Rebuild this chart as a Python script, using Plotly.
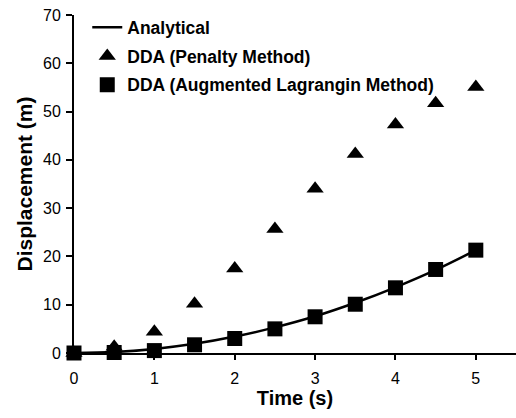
import plotly.graph_objects as go

t = [0, 0.5, 1, 1.5, 2, 2.5, 3, 3.5, 4, 4.5, 5]
analytical = [0, 0.2, 0.85, 1.9, 3.4, 5.3, 7.6, 10.4, 13.6, 17.2, 21.3]
penalty = [0, 1.3, 4.4, 10.2, 17.5, 25.7, 34.0, 41.2, 47.3, 51.7, 55.1]
augmented = [0, 0.1, 0.5, 1.7, 3.0, 5.0, 7.5, 10.1, 13.5, 17.3, 21.3]

fig = go.Figure()
fig.add_trace(go.Scatter(x=t, y=analytical, mode="lines", name="Analytical",
                         line=dict(color="black", width=2.5, shape="spline"),
                         legendgroup="a", cliponaxis=False))
fig.add_trace(go.Scatter(x=t, y=penalty, mode="markers", name="DDA (Penalty Method)",
                         marker=dict(symbol="triangle-up", size=15, color="black"),
                         legendgroup="b", cliponaxis=False))
fig.add_trace(go.Scatter(x=t, y=augmented, mode="markers", name="DDA (Augmented Lagrangin Method)",
                         marker=dict(symbol="square", size=15, color="black"),
                         legendgroup="c", cliponaxis=False))

fig.update_layout(
    width=516, height=418,
    margin=dict(l=74, r=0, t=15, b=65),
    plot_bgcolor="white", paper_bgcolor="white",
    font=dict(family="Liberation Sans, Arial", color="black", size=16),
    showlegend=True,
    legend=dict(x=0.03, y=1.017, xanchor="left", yanchor="top",
                font=dict(size=17.5, family="Liberation Sans, Arial", color="black", weight="bold"),
                bgcolor="rgba(0,0,0,0)", tracegroupgap=3, itemwidth=30),
    xaxis=dict(range=[0, 5.5], tickvals=[0, 1, 2, 3, 4, 5], showgrid=False, zeroline=False,
               showline=True, linecolor="black", linewidth=2, ticks="outside", ticklen=5,
               tickwidth=1.5, tickcolor="black", tickfont=dict(size=16), ticklabelstandoff=5,
               title=dict(text="<b>Time (s)</b>", font=dict(size=20), standoff=2)),
    yaxis=dict(range=[0, 70], tickvals=[0, 10, 20, 30, 40, 50, 60, 70], showgrid=False, zeroline=False,
               showline=True, linecolor="black", linewidth=2, ticks="outside", ticklen=6,
               tickwidth=1.5, tickcolor="black", tickfont=dict(size=16), ticklabelstandoff=2,
               title=dict(text="<b>Displacement (m)</b>", font=dict(size=21), standoff=5)),
)

fig.write_html("out.html")
